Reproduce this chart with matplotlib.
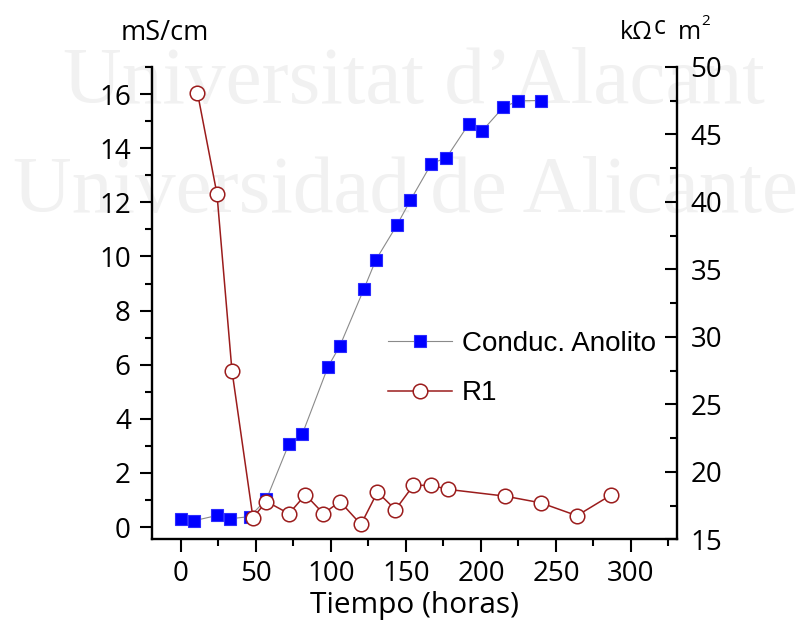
import matplotlib
matplotlib.use("Agg")
import matplotlib.pyplot as plt
from matplotlib.ticker import MultipleLocator

plt.rcParams["font.family"] = ["Open Sans", "DejaVu Sans"]

# Conductividad del anolito (mS/cm) frente al tiempo (h)
t_cond = [0, 9, 24, 33, 46, 57, 72, 81, 98, 106, 122, 130, 144, 153, 167,
          177, 192, 201, 215, 225, 240]
cond = [0.31, 0.24, 0.43, 0.31, 0.39, 1.03, 3.08, 3.45, 5.92, 6.70, 8.80,
        9.88, 11.16, 12.08, 13.43, 13.65, 14.90, 14.65, 15.52, 15.75, 15.76]

# Resistencia R1 (kΩ cm²) frente al tiempo (h)
t_r1 = [11, 24, 34, 48, 57, 72, 83, 95, 106, 120, 131, 143, 155, 167, 178,
        216, 240, 264, 287]
r1 = [48.1, 40.6, 27.5, 16.6, 17.8, 16.9, 18.3, 16.9, 17.8, 16.1, 18.5,
      17.2, 19.0, 19.0, 18.7, 18.2, 17.7, 16.75, 18.3]

label_cond = "Conduc. Anolito"
label_r1 = "R1"
xlabel = "Tiempo (horas)"

W, H = 807, 620
fig = plt.figure(figsize=(W / 100, H / 100), dpi=100)
renderer = fig.canvas.get_renderer()

# watermark behind everything
wm_kw = dict(family="Liberation Serif", size=58.5, color="#F1F1F1",
             va="baseline", ha="left", zorder=-5)
fig.text(63 / W, 1 - 103 / H, "Universitat d\u2019Alacant", **wm_kw)
fig.text(13 / W, 1 - 212 / H, "Universidad de Alicante", **wm_kw)

ax = fig.add_axes([151.7 / W, 1 - 539.3 / H, 525 / W, 472.3 / H])
ax.set_facecolor("none")
ax2 = ax.twinx()

ax.plot(t_cond, cond, color="#8a8a8a", lw=0.8, marker="s", ms=9,
        mfc="#0000FF", mec="#2b2bff", mew=0.8, label=label_cond, zorder=3)
ax2.plot(t_r1, r1, color="#9b1c1c", lw=1.1, marker="o", ms=10.5,
         mfc="white", mec="#9b1c1c", mew=1.1, label=label_r1, zorder=3)

ax.set_xlim(-19.5, 330.5)
ax.set_ylim(-0.45, 17.0)
ax2.set_ylim(15, 50)

ax.xaxis.set_major_locator(MultipleLocator(50))
ax.xaxis.set_minor_locator(MultipleLocator(25))
ax.yaxis.set_major_locator(MultipleLocator(2))
ax.yaxis.set_minor_locator(MultipleLocator(1))
ax2.yaxis.set_major_locator(MultipleLocator(5))
ax2.yaxis.set_minor_locator(MultipleLocator(2.5))

for sp in ("top", "right"):
    ax.spines[sp].set_visible(False)
for sp in ("top", "left", "bottom"):
    ax2.spines[sp].set_visible(False)
for sp in ax.spines.values():
    sp.set_linewidth(1.7)
ax2.spines["right"].set_linewidth(1.7)

ax.tick_params(axis="both", which="major", direction="out", length=9,
               width=1.5, pad=6, labelsize=20)
ax.tick_params(axis="both", which="minor", direction="out", length=5,
               width=1.5)
ax2.tick_params(axis="y", which="major", direction="in", length=9,
                width=1.5, pad=10, labelsize=20)
ax2.tick_params(axis="y", which="minor", direction="in", length=5,
                width=1.5)

ax.set_xlabel(xlabel, fontsize=21.5, labelpad=2)

# axis units above each vertical axis
fig.text(165 / W, 1 - 40 / H, "mS/cm", fontsize=19.5, ha="center",
         va="baseline")

base_px = 39.3
unit_kw = dict(fontsize=18, ha="left", va="baseline")
t_k = fig.text(620 / W, 1 - base_px / H, "k\u03a9", **unit_kw)
x_end = t_k.get_window_extent(renderer).x1
t_c = fig.text((x_end + 1) / W, 1 - (base_px - 5) / H, "c", **unit_kw)
x_end = t_c.get_window_extent(renderer).x1
t_m = fig.text((x_end + 12) / W, 1 - base_px / H, "m", **unit_kw)
x_end = t_m.get_window_extent(renderer).x1
fig.text((x_end + 0.5) / W, 1 - (base_px - 14) / H, "2", fontsize=11,
         ha="left", va="baseline")

h1, l1 = ax.get_legend_handles_labels()
h2, l2 = ax2.get_legend_handles_labels()
ax2.legend(h1 + h2, l1 + l2, loc="center left",
           bbox_to_anchor=(388 / W, 1 - 368.5 / H),
           bbox_transform=fig.transFigure, frameon=False,
           prop={"family": "Liberation Sans", "size": 20},
           handlelength=2.3, handletextpad=0.36, labelspacing=0.85,
           borderpad=0, borderaxespad=0, numpoints=1)

fig.savefig("out.png", dpi=100)
